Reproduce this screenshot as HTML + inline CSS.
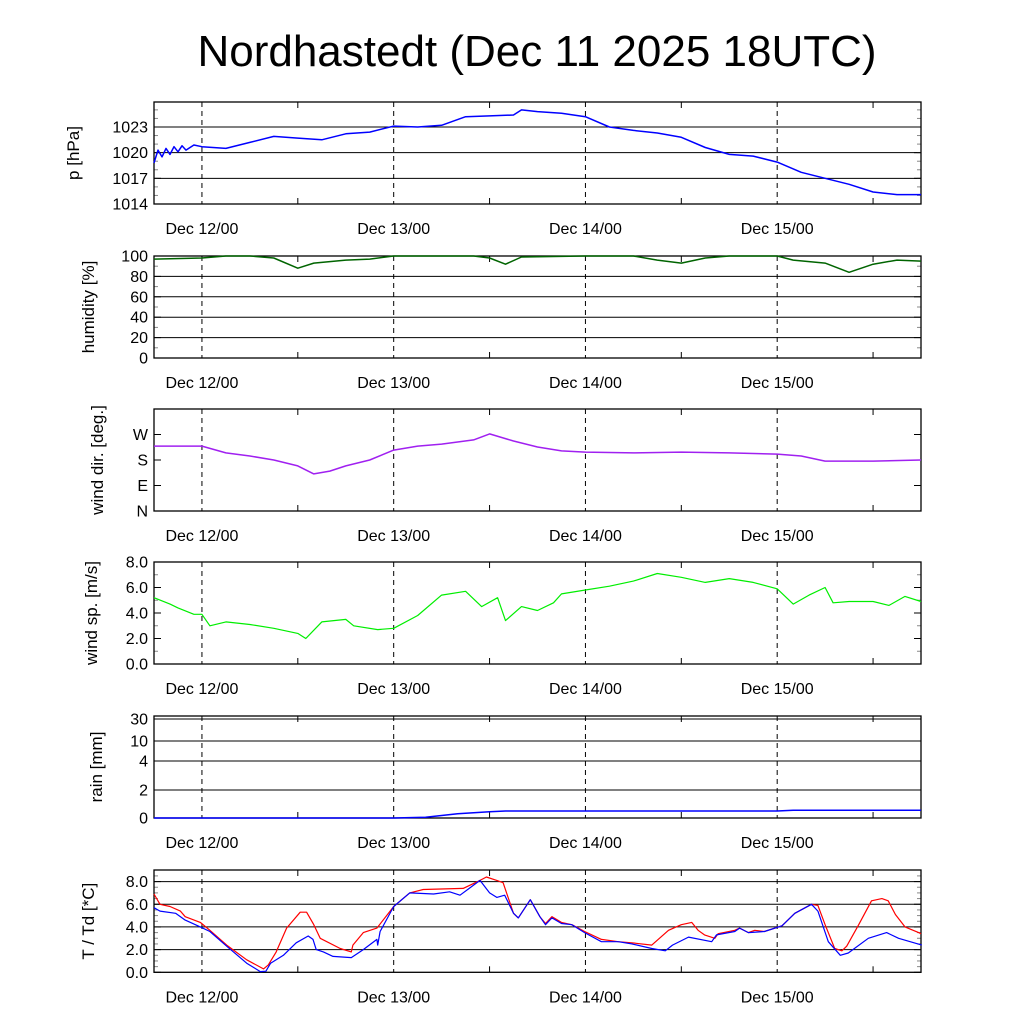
<!DOCTYPE html>
<html><head><meta charset="utf-8">
<style>
body{margin:0;background:#fff;}
svg text{font-family:"Liberation Sans",sans-serif;}
</style></head>
<body>
<svg id="c" width="1024" height="1024" viewBox="0 0 1024 1024" xmlns="http://www.w3.org/2000/svg">
<text x="537" y="66" font-size="44" text-anchor="middle">Nordhastedt (Dec 11 2025 18UTC)</text>
</svg>
<script>
// ---- data (hours since Dec 11 18UTC) ----
const dayLabels = ["Dec 12/00","Dec 13/00","Dec 14/00","Dec 15/00"];
const dayHours = [6,30,54,78];
const pTimes = [0,0.5,1,1.5,2,2.5,3,3.5,4,5,6,9,12,15,18,21,24,27,30,33,36,39,42,45,46,48,51,54,57,60,63,66,69,72,75,78,81,84,87,90,93,96];
const pVals = [1018.8,1020.3,1019.5,1020.5,1019.8,1020.7,1020.1,1020.8,1020.3,1020.9,1020.7,1020.5,1021.2,1021.9,1021.7,1021.5,1022.2,1022.4,1023.1,1023.0,1023.2,1024.2,1024.3,1024.4,1025.0,1024.8,1024.6,1024.2,1023.0,1022.6,1022.3,1021.8,1020.6,1019.8,1019.6,1018.9,1017.7,1017.0,1016.3,1015.4,1015.1,1015.1];
const hTimes = [0,6,9,12,15,18,20,24,27,30,36,40,42,44,46,54,60,63,66,69,72,78,80,84,87,90,93,96];
const hVals = [97,98,100,100,98,88,93,96,97,100,100,100,98,92,99,100,100,96,93,98,100,100,96,93,84,92,96,95];
const dTimes = [0,6,9,12,15,18,20,22,24,27,30,33,36,40,42,45,48,51,54,60,66,72,78,81,84,90,96];
const dVals = [229,229,205,194,180,159,131,141,159,180,215,229,236,251,272,247,226,212,208,205,208,205,201,194,176,176,180];
const sTimes = [0,2,3,5,6,7,9,12,15,18,19,21,24,25,28,30,33,36,39,41,43,44,46,48,50,51,54,57,60,63,66,69,72,75,78,80,82,84,85,87,90,92,94,96];
const sVals = [5.2,4.7,4.4,3.9,3.9,3.0,3.3,3.1,2.8,2.4,2.0,3.3,3.5,3.0,2.7,2.8,3.8,5.4,5.7,4.5,5.2,3.4,4.5,4.2,4.8,5.5,5.8,6.1,6.5,7.1,6.8,6.4,6.7,6.4,5.9,4.7,5.4,6.0,4.8,4.9,4.9,4.6,5.3,4.9];
const rTimes = [0,30,34,38,42,44,78,80,96];
const rVals = [0,0,0.05,0.3,0.45,0.5,0.5,0.55,0.55];
const tTimes = [0,0.75,2,3.3,3.9,5.8,7,9.1,11.6,13.7,14.3,15.3,16.6,18.3,19.1,20,20.8,23.3,24.7,24.9,26.2,27.9,30,32,33.7,38.7,40.8,41.6,42.9,43.7,45,45.6,47.1,48.3,49,49.8,51,52.3,53.9,56,58.1,59.8,62.3,64.4,66,67.3,68.1,68.9,70.2,70.6,72.7,73.3,74.4,75.2,76.4,78.6,80.2,82.3,83.1,84,85.2,86.1,86.7,88.2,89.8,91.1,91.9,92.8,94,95.7,96];
const tVals = [6.9,6.0,5.8,5.4,4.9,4.4,3.7,2.4,1.1,0.3,0.65,1.8,3.9,5.3,5.3,4.2,3.0,2.1,1.8,2.4,3.5,3.9,5.8,7.0,7.3,7.4,8.1,8.4,8.1,7.9,5.2,4.8,6.4,4.9,4.3,4.9,4.4,4.2,3.6,2.9,2.7,2.6,2.4,3.7,4.2,4.4,3.7,3.3,3.0,3.4,3.7,3.9,3.5,3.7,3.6,4.1,5.2,6.0,5.9,4.2,2.1,1.9,2.3,4.2,6.3,6.5,6.3,5.1,4.0,3.5,3.4];
const tdTimes = [0,0.75,2.7,3.9,5.8,7,9.1,11.6,13.3,14.0,14.6,16.2,17.8,19.3,19.9,20.3,21.2,22.4,24.7,26.2,27.9,28.0,28.3,30,32,35,37,38.3,40.8,42,42.9,43.9,45,45.6,47.1,48.3,49,49.8,51,52.3,53.9,56,58.1,59.8,62.3,64,64.9,66.9,69.8,70.4,72.7,73.3,74.4,76.4,78.6,80.2,82.3,83.1,84.4,85.9,86.9,89.4,91.7,93.2,96.1];
const tdVals = [5.7,5.4,5.2,4.6,4.0,3.6,2.3,0.8,0.06,0.1,0.8,1.5,2.6,3.2,2.9,2.0,1.8,1.4,1.3,2.0,2.9,2.4,3.6,5.8,7.0,6.9,7.1,6.8,8.1,7.0,6.6,6.8,5.2,4.8,6.4,4.9,4.2,4.8,4.3,4.2,3.5,2.7,2.7,2.5,2.1,1.9,2.4,3.1,2.7,3.3,3.6,3.9,3.5,3.6,4.1,5.2,6.0,5.4,2.7,1.5,1.7,3.0,3.5,3.0,2.4];

// ---- layout ----
const svg = document.getElementById('c');
const NS = 'http://www.w3.org/2000/svg';
const X0 = 154, X1 = 921;
function xs(h){ return X0 + h*(X1-X0)/96; }
function mk(tag, attrs, parent){ const e=document.createElementNS(NS,tag); for(const k in attrs) e.setAttribute(k,attrs[k]); (parent||svg).appendChild(e); return e; }
function linScale(d0,d1,top,bot){ return v => bot - (v-d0)/(d1-d0)*(bot-top); }
function pwScale(dom,rng){ return v => { for(let i=0;i<dom.length-1;i++){ if(v<=dom[i+1]) return rng[i]+(v-dom[i])/(dom[i+1]-dom[i])*(rng[i+1]-rng[i]); } return rng[rng.length-1]; }; }

function panel(name, top, bot, ys, ylabel, ticks, grids, minors, lx){
  const g = mk('g',{});
  
  
  for(const v of grids){
    const y = ys(v);
    const l = mk('line',{x1:X0,x2:X1,y1:y,y2:y,stroke:'#000','stroke-width':1},g);
    
    
  }
  for(const v of minors){
    const y = ys(v);
    mk('line',{x1:X0,x2:X0+4,y1:y,y2:y,stroke:'#888','stroke-width':1},g);
    mk('line',{x1:X1-4,x2:X1,y1:y,y2:y,stroke:'#888','stroke-width':1},g);
  }
  for(const t of ticks){
    const y = ys(t[0]);
    mk('line',{x1:X0,x2:X0+7,y1:y,y2:y,stroke:'#000','stroke-width':1},g);
    mk('line',{x1:X1-7,x2:X1,y1:y,y2:y,stroke:'#000','stroke-width':1},g);
    if(t[1]!==''){
      const tx = mk('text',{x:X0-6,y:y+5.5,'font-size':16,'text-anchor':'end'},g);
      tx.textContent = t[1];
      
      
    }
  }
  dayHours.forEach((h,i)=>{
    const x = xs(h);
    const d = mk('line',{x1:x,x2:x,y1:top,y2:bot,stroke:'#000','stroke-width':1,'stroke-dasharray':'5,4'},g);
    
    
    const lb = mk('text',{x:x,y:bot+30,'font-size':16,'text-anchor':'middle'},g);
    lb.textContent = dayLabels[i];
    
    
  });
  for(let h=18; h<96; h+=24){
    const x = xs(h);
    mk('line',{x1:x,x2:x,y1:bot-6,y2:bot,stroke:'#000'},g);
    mk('line',{x1:x,x2:x,y1:top,y2:top+6,stroke:'#000'},g);
  }
  const fr = mk('rect',{x:X0,y:top,width:X1-X0,height:bot-top,fill:'none',stroke:'#000','stroke-width':1.3},g);
  
  
  const cy=(top+bot)/2;
  const yl = mk('text',{x:0,y:0,'font-size':17,'text-anchor':'middle',transform:`translate(${lx},${cy}) rotate(-90)`},g);
  yl.textContent = ylabel;
  
  
  return g;
}
function series(name, times, vals, ys, color, g, w){
  let d='';
  times.forEach((t,i)=>{ d += (i?'L':'M')+xs(t).toFixed(1)+','+ys(vals[i]).toFixed(1); });
  const p = mk('path',{d:d,fill:'none',stroke:color,'stroke-width':w||1.5,'stroke-linejoin':'round'},g);
  
  
}
function range(a,b,s){ const r=[]; for(let v=a; v<=b+1e-9; v+=s) r.push(+v.toFixed(3)); return r; }

// pressure
const pY = linScale(1014, 1025.92, 102, 204);
const gP = panel('pressure',102,204,pY,'p [hPa]',[[1014,'1014'],[1017,'1017'],[1020,'1020'],[1023,'1023']],[1017,1020,1023],range(1015,1025,1),79);
series('pressure-line',pTimes,pVals,pY,'#0000ff',gP);
// humidity
const hY = linScale(0,100,256,358);
const gH = panel('humidity',256,358,hY,'humidity [%]',[[0,'0'],[20,'20'],[40,'40'],[60,'60'],[80,'80'],[100,'100']],[20,40,60,80,100],range(10,90,20),94);
series('humidity-line',hTimes,hVals,hY,'#006400',gH);
// wind direction
const dY = linScale(0,360,409,511);
const gD = panel('wind-direction',409,511,dY,'wind dir. [deg.]',[[0,'N'],[90,'E'],[180,'S'],[270,'W'],[360,'']],[],[],103);
series('wind-direction-line',dTimes,dVals,dY,'#a020f0',gD);
// wind speed
const sY = linScale(0,8,562,664);
const gS = panel('wind-speed',562,664,sY,'wind sp. [m/s]',[[0,'0.0'],[2,'2.0'],[4,'4.0'],[6,'6.0'],[8,'8.0']],[],range(1,7,2),97);
series('wind-speed-line',sTimes,sVals,sY,'#00ee00',gS,1.2);
// rain
const rY = pwScale([0,2,4,10,30,40],[818,790,761,741,719,716]);
const gR = panel('rain',716,818,rY,'rain [mm]',[[0,'0'],[2,'2'],[4,'4'],[10,'10'],[30,'30']],[2,4,10,30],[],102);
series('rain-line',rTimes,rVals,rY,'#0000ff',gR);
// temperature
const tY = linScale(0,9.02,870,972.3);
const gT = panel('temperature',870,972.3,tY,'T / Td [*C]',[[0,'0.0'],[2,'2.0'],[4,'4.0'],[6,'6.0'],[8,'8.0']],[2,4,6,8],range(0.5,8.5,0.5),94);
series('temperature-line',tTimes,tVals,tY,'#ff0000',gT,1.2);
series('dewpoint-line',tdTimes,tdVals,tY,'#0000ff',gT,1.2);
</script>
</body></html>
